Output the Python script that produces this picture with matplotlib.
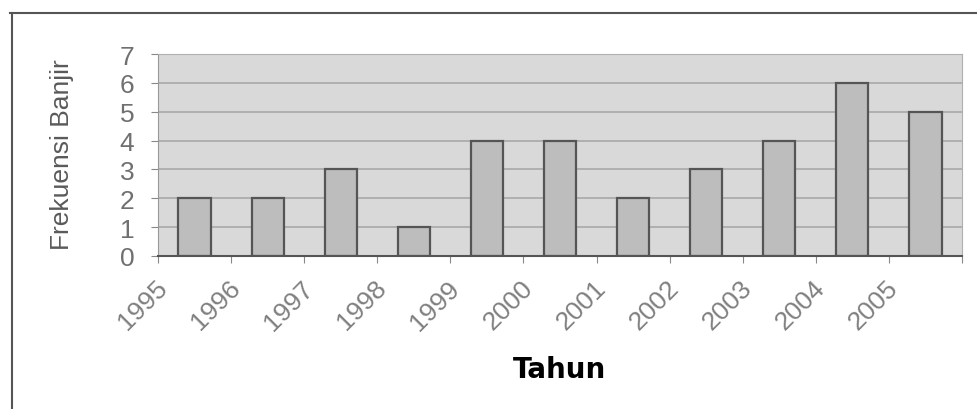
import numpy as np
import matplotlib.pyplot as plt
import matplotlib.transforms as mtransforms
from matplotlib.lines import Line2D

# frekuensi banjir per tahun
tahun = ["1995", "1996", "1997", "1998", "1999", "2000",
         "2001", "2002", "2003", "2004", "2005"]
frekuensi = [2, 2, 3, 1, 4, 4, 2, 3, 4, 6, 5]
y_ticks = [0, 1, 2, 3, 4, 5, 6, 7]

fig = plt.figure(figsize=(9.78, 4.10), dpi=100)
ax = fig.add_axes([158/978, 1-257/410, (962-158)/978, (257-55)/410])

x = np.arange(len(tahun))
ax.set_facecolor("#d9d9d9")
ax.set_axisbelow(True)
ax.yaxis.grid(True, color="#a8a8a8", linewidth=1.2)
ax.bar(x, frekuensi, width=0.44, color="#bdbdbd", edgecolor="#555555", linewidth=1.6)

ax.set_xlim(-0.5, len(tahun) - 0.5)
ax.set_ylim(0, 7)
ax.set_yticks(y_ticks)
ax.set_yticklabels([str(v) for v in y_ticks], fontsize=19, color="#707070",
                   family="Liberation Sans")
ax.tick_params(axis="y", length=5, pad=12, color="#888888")

# Excel-style: labels sit on the category boundaries
bounds = x - 0.5
ax.set_xticks(np.append(bounds, len(tahun) - 0.5))
ax.set_xticklabels(tahun + [""], fontsize=19, color="#808080", rotation=45,
                   ha="right", va="top", family="Liberation Sans")
ax.tick_params(axis="x", length=5, pad=9, color="#888888")
offset = mtransforms.ScaledTranslation(14/100, 0, fig.dpi_scale_trans)
for lbl in ax.get_xticklabels():
    lbl.set_transform(lbl.get_transform() + offset)

for s in ["top", "right"]:
    ax.spines[s].set_color("#b0b0b0")
ax.spines["left"].set_color("#999999")
ax.spines["bottom"].set_color("#555555")
ax.spines["bottom"].set_linewidth(1.5)

fig.text(62/978, 1-155/410, "Frekuensi Banjir", rotation=90, ha="center", va="center",
         fontsize=19, color="#5a5a5a", family="Liberation Sans")
fig.text(560/978, 1-370/410, "Tahun", ha="center", va="center",
         fontsize=20, fontweight="bold", color="black", family="DejaVu Sans")

# outer chart border (top and left only visible)
fig.add_artist(Line2D([10/978, 1], [1-14/410, 1-14/410], color="#555555", linewidth=1.5))
fig.add_artist(Line2D([12/978, 12/978], [0, 1-14/410], color="#555555", linewidth=1.5))

fig.savefig("out.png", dpi=100)
